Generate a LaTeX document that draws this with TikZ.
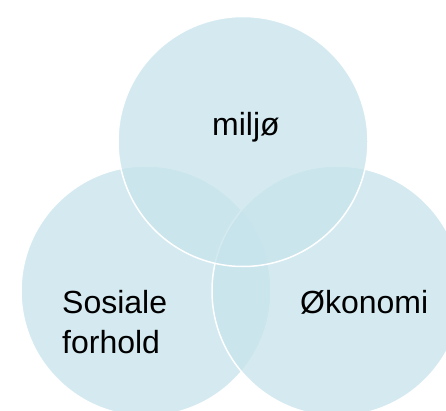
\documentclass[tikz,border=0pt]{standalone}
\usepackage{fontspec}
\setmainfont{Liberation Sans}
\usetikzlibrary{positioning}
\definecolor{vennblue}{RGB}{198,227,235}

\begin{document}
\begin{tikzpicture}[x=1pt, y=1pt,
  venn/.style={circle, draw=white, line width=1.5pt, fill=vennblue, fill opacity=0.75, minimum size=250pt, inner sep=0pt},
  lbl/.style={font=\fontsize{32}{40}\selectfont, text=black, inner sep=0pt}]
  \useasboundingbox (0,0) rectangle (446,410);
  \clip (0,0) rectangle (446,410);

  \node [venn] (sos) at (146,119) {};
  \node [venn] (oko) at (337,119) {};
  \node [venn] (milj) at (243,268.5) {};

  \node [lbl, anchor=base] (tmilj) at (246,274) {milj\o};
  \node [lbl, anchor=base west, align=left] (tsos) at (62,57) {Sosiale\\forhold};
  \node [lbl, anchor=base west] (toko) at (300,97) {\O konomi};
\end{tikzpicture}
\end{document}
